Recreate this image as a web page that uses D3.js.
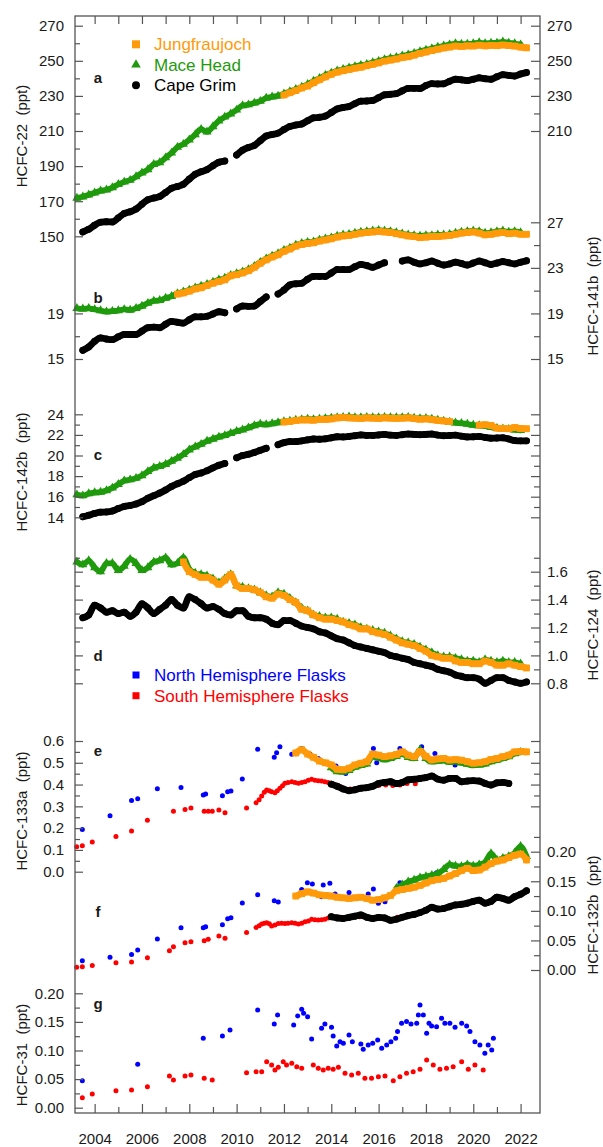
<!DOCTYPE html>
<meta charset="utf-8">
<style>
  body { margin: 0; background: #fff; }
  svg text { font-family: "Liberation Sans", Arial, sans-serif; fill: #1a1a1a; }
  .tick line { stroke: #555; stroke-width: 1.2; }
  .tick text { font-size: 15px; }
  .title { font-size: 15px; }
  .letter { font-size: 15px; font-weight: bold; }
  .legend { font-size: 17px; }
</style>
<script src="https://cdn.jsdelivr.net/npm/d3@7"></script>
<body>
<div id="chart"></div>
<script>
// ---- data (quarterly in situ means, flask samples as [year, value]) ----
const yearTicks = [2004, 2005, 2006, 2007, 2008, 2009, 2010, 2011, 2012, 2013, 2014, 2015, 2016, 2017, 2018, 2019, 2020, 2021, 2022];
const yearLabels = [2004, 2006, 2008, 2010, 2012, 2014, 2016, 2018, 2020, 2022];

// HCFC-22
const hcfc22MhdStart = 2003.25;
const hcfc22Mhd = [171.8, 172.5, 173.6,
  174.8, 175.9, 176.5, 177.8, 179.6, 181.0, 182.0, 184.0, 186.2, 188.0, 191.0, 192.0,
  194.8, 197.5, 200.8, 202.5, 205.0, 208.0, 211.0, 209.5, 212.5, 215.8, 218.0, 219.8,
  222.0, 224.5, 225.0, 226.0, 227.0, 228.8, 229.5, 230.0, 231.2, 232.5, 233.8, 235.0,
  236.6, 238.5, 240.0, 241.8, 243.0, 244.3, 245.2, 246.0, 246.8, 247.5, 248.0, 249.0,
  249.8, 250.8, 251.5, 252.0, 252.8, 253.5, 254.3, 255.3, 256.2, 257.0, 257.8, 258.5,
  259.2, 259.8, 259.5, 259.6, 259.8, 260.4, 259.9, 260.1, 260.2, 260.8, 260.2, 259.8, 259.2];
const hcfc22JfjStart = 2012.0;
const hcfc22Jfj = [230.5, 231.8, 233.0, 234.5, 235.6, 237.5, 239.2, 240.8, 242.3, 243.5, 244.3, 245.0,
  245.8, 246.3, 247.2, 248.0, 248.8, 249.8, 250.4, 251.0, 251.8, 252.3, 253.2, 254.2,
  255.0, 255.8, 256.6, 257.3, 257.8, 258.4, 258.2, 258.5, 258.4, 258.9, 258.5, 258.8,
  258.6, 259.0, 258.7, 258.4, 257.8, 257.4];
const hcfc22CgoStart = 2003.5;
const hcfc22Cgo = [152.5, 154.0,
  156.3, 158.0, 158.3, 158.2, 160.5, 163.0, 164.0, 165.5, 168.3, 170.8, 171.8, 172.7,
  175.0, 177.4, 178.4, 179.6, 182.6, 185.3, 186.8, 188.0, 190.2, 192.2, 192.9, null,
  196.3, 199.1, 200.6, 201.8, 204.5, 207.1, 208.0, 208.8, 210.8, 212.6, 213.4, 214.0,
  215.8, 217.5, 217.8, 218.5, 220.5, 222.6, 223.4, 224.0, 225.6, 227.0, 227.1, 227.4,
  229.0, 230.6, 230.9, 231.3, 232.9, 234.3, 234.3, 234.2, 235.9, 237.0, 236.8, 236.9,
  238.3, 239.5, 239.2, 238.7, 239.5, 240.3, 239.8, 239.5, 240.9, 242.1, 241.7, 241.3,
  242.5, 243.3];

// HCFC-141b
const hcfc141bMhdStart = 2003.25;
const hcfc141bMhd = [19.45, 19.40, 19.45,
  19.35, 19.25, 19.15, 19.20, 19.25, 19.35, 19.30, 19.45, 19.65, 19.90, 20.10, 20.15,
  20.35, 20.50, 20.75, 20.90, 21.05, 21.25, 21.40, 21.55, 21.75, 21.95, 22.10, 22.35,
  22.50, 22.65, 22.85, 23.15, 23.50, 23.80, 24.05, 24.25, 24.55, 24.75, 25.00, 25.15,
  25.25, 25.30, 25.45, 25.55, 25.65, 25.80, 25.90, 25.95, 26.05, 26.15, 26.20, 26.25,
  26.30, 26.25, 26.20, 26.10, 26.00, 25.90, 25.85, 25.80, 25.85, 25.85, 25.90, 25.90,
  25.95, 26.05, 26.15, 26.20, 26.25, 26.20, 26.05, 26.10, 26.20, 26.25, 26.15, 26.20, 26.10];
const hcfc141bJfjStart = 2007.5;
const hcfc141bJfj = [20.70, 20.80,
  20.95, 21.15, 21.25, 21.45, 21.65, 21.80, 21.95, 22.30, 22.40, 22.55, 22.75, 23.05,
  23.40, 23.70, 23.95, 24.15, 24.45, 24.65, 24.90, 25.05, 25.15, 25.20, 25.35, 25.45,
  25.55, 25.70, 25.80, 25.85, 25.95, 26.05, 26.10, 26.15, 26.20, 26.15, 26.10, 26.00,
  25.90, 25.80, 25.75, 25.65, 25.70, 25.75, 25.75, 25.80, 25.85, 25.95, 26.05, 26.10,
  26.15, 26.05, 25.90, 25.95, 26.05, 26.10, 26.00, 26.05, 25.95, 25.95];
const hcfc141bCgoStart = 2003.5;
const hcfc141bCgo = [15.76, 16.05,
  16.55, 16.85, 16.75, 16.70, 16.95, 17.15, 17.15, 17.15, 17.45, 17.75, 17.80, 17.75,
  18.05, 18.30, 18.22, 18.15, 18.45, 18.70, 18.70, 18.75, 18.95, 19.15, 19.06, null,
  19.40, 19.65, 19.62, 19.65, 20.05, 20.45, null, 20.70, 21.05, 21.50, 21.60, 21.65,
  22.00, 22.25, 22.25, 22.25, 22.55, 22.85, 22.85, 22.85, 23.10, 23.30, 23.20, 23.05,
  23.25, 23.45, null, null, 23.60, 23.70, 23.50, 23.35, 23.45, 23.60, 23.40, 23.25,
  23.35, 23.50, 23.38, 23.25, 23.42, 23.60, 23.45, 23.30, 23.42, 23.55, 23.45, 23.35,
  23.50, 23.62];

// HCFC-142b
const hcfc142bMhdStart = 2003.25;
const hcfc142bMhd = [16.20, 16.10, 16.30,
  16.40, 16.45, 16.60, 16.85, 17.20, 17.55, 17.65, 17.80, 18.05, 18.45, 18.80, 18.95,
  19.15, 19.45, 19.75, 20.10, 20.55, 20.85, 21.10, 21.40, 21.60, 21.80, 21.95, 22.15,
  22.35, 22.50, 22.70, 22.90, 23.05, 23.00, 23.10, 23.20, 23.30, 23.35, 23.45, 23.50,
  23.55, 23.50, 23.55, 23.60, 23.65, 23.70, 23.72, 23.75, 23.70, 23.68, 23.72, 23.70,
  23.68, 23.72, 23.70, 23.68, 23.70, 23.72, 23.65, 23.60, 23.62, 23.55, 23.45, 23.35,
  23.25, 23.18, 23.12, 23.05, 22.95, 22.90, 22.85, 22.75, 22.65, 22.60, 22.55, 22.50, 22.45];
const hcfc142bJfjStart = 2012.0;
const hcfc142bJfj = [23.25, 23.30, 23.40, 23.45, 23.45, 23.42, 23.50, 23.50, 23.55, 23.65, 23.68, 23.65,
  23.62, 23.60, 23.65, 23.62, 23.60, 23.65, 23.62, 23.60, 23.62, 23.65, 23.58, 23.52,
  23.55, 23.48, 23.40, 23.35, 23.30, null, null, null, null, 22.95, 22.98, 22.92,
  22.65, 22.62, 22.60, 22.72, 22.62, 22.60];
const hcfc142bCgoStart = 2003.5;
const hcfc142bCgo = [14.05, 14.20,
  14.38, 14.50, 14.52, 14.62, 14.85, 15.05, 15.15, 15.30, 15.52, 15.85, 16.10, 16.35,
  16.65, 17.00, 17.25, 17.50, 17.85, 18.15, 18.30, 18.52, 18.80, 19.05, 19.22, null,
  19.78, 20.00, 20.12, 20.30, 20.50, 20.70, null, 21.05, 21.25, 21.35, 21.35, 21.42,
  21.52, 21.60, 21.58, 21.62, 21.72, 21.82, 21.80, 21.85, 21.92, 22.00, 21.95, 21.95,
  22.00, 22.05, 21.98, 21.95, 22.02, 22.08, 22.05, 22.02, 22.05, 22.08, 21.98, 21.92,
  21.95, 21.98, 21.88, 21.80, 21.82, 21.85, 21.75, 21.68, 21.70, 21.72, 21.60, 21.45,
  21.42, 21.42];

// HCFC-124
const hcfc124MhdStart = 2003.25;
const hcfc124Mhd = [1.67, 1.65, 1.68,
  1.63, 1.60, 1.66, 1.66, 1.61, 1.64, 1.69, 1.66, 1.61, 1.63, 1.67, 1.68,
  1.70, 1.65, 1.66, 1.70, 1.62, 1.59, 1.58, 1.57, 1.55, 1.52, 1.55, 1.58,
  1.50, 1.49, 1.48, 1.47, 1.45, 1.43, 1.42, 1.45, 1.44, 1.41, 1.38, 1.34,
  1.32, 1.29, 1.28, 1.27, 1.27, 1.26, 1.24, 1.23, 1.22, 1.20, 1.19, 1.18,
  1.17, 1.16, 1.14, 1.12, 1.10, 1.09, 1.08, 1.06, 1.04, 1.02, 1.00, 0.99,
  0.99, 0.98, 0.97, 0.96, 0.96, 0.95, 0.97, 0.96, 0.95, 0.96, 0.95, 0.95, 0.94];
const hcfc124JfjStart = 2007.75;
const hcfc124Jfj = [1.67,
  1.60, 1.58, 1.56, 1.56, 1.54, 1.51, 1.54, 1.58, 1.50, 1.48, 1.48, 1.47,
  1.45, 1.42, 1.41, 1.44, 1.43, 1.40, 1.38, 1.33, 1.32, 1.29, 1.27, 1.26,
  1.26, 1.25, 1.24, 1.22, 1.21, 1.19, 1.19, 1.17, 1.16, 1.15, 1.13, 1.11,
  1.09, 1.08, 1.07, 1.05, 1.03, 1.00, 0.99, 0.98, 0.98, 0.96, 0.95, 0.95,
  0.94, 0.94, 0.96, 0.95, 0.93, 0.93, 0.94, 0.93, 0.92, 0.91];
const hcfc124CgoStart = 2003.5;
const hcfc124Cgo = [1.27, 1.29,
  1.36, 1.34, 1.31, 1.32, 1.30, 1.31, 1.28, 1.31, 1.37, 1.34, 1.30, 1.33,
  1.36, 1.40, 1.36, 1.34, 1.42, 1.40, 1.37, 1.34, 1.35, 1.33, 1.30, 1.29,
  1.32, 1.32, 1.28, 1.27, 1.27, 1.26, 1.23, 1.22, 1.25, 1.25, 1.23, 1.21,
  1.20, 1.19, 1.17, 1.16, 1.14, 1.12, 1.11, 1.09, 1.07, 1.06, 1.05, 1.04,
  1.03, 1.02, 1.00, 0.99, 0.98, 0.97, 0.95, 0.94, 0.93, 0.92, 0.90, 0.89,
  0.88, 0.86, 0.85, 0.84, 0.84, 0.83, 0.80, 0.82, 0.84, 0.84, 0.82, 0.81,
  0.80, 0.81];

// HCFC-133a
const hcfc133aJfjStart = 2012.5;
const hcfc133aJfj = [0.545, 0.560, 0.540, 0.525, 0.508, 0.500, 0.490, 0.470, 0.468, 0.475,
  0.490, 0.498, 0.505, 0.540, 0.535, 0.528, 0.532, 0.538, 0.550, 0.535, 0.528, 0.552,
  0.530, 0.513, 0.518, 0.520, 0.513, 0.515, 0.512, 0.505, 0.498, 0.500, 0.505, 0.515,
  0.520, 0.528, 0.535, 0.550, 0.552, 0.550];
const hcfc133aMhdStart = 2014.0;
const hcfc133aMhd = [0.478, 0.460, 0.458, 0.465, 0.480, 0.488, 0.495, 0.528, 0.522, 0.515,
  0.520, 0.530, 0.540, 0.525, 0.520, 0.560, 0.520, 0.505, 0.508, 0.510, 0.503, 0.505,
  0.500, 0.494, 0.488, 0.490, 0.495, 0.505, 0.512, 0.520, 0.528, 0.542, 0.548];
const hcfc133aCgoStart = 2014.0;
const hcfc133aCgo = [0.402, 0.392, 0.380, 0.372, 0.376, 0.383, 0.386, 0.392, 0.405, 0.410,
  0.413, 0.405, 0.410, 0.422, 0.424, 0.428, 0.432, 0.439, 0.425, 0.420, 0.428, 0.428,
  0.413, 0.416, 0.418, 0.416, 0.405, 0.398, 0.408, 0.410, 0.405];
const flask133aNorth = [[2003.48, 0.194], [2004.65, 0.257], [2005.56, 0.327], [2005.82, 0.335],
  [2006.65, 0.381], [2007.65, 0.386], [2008.59, 0.352], [2008.69, 0.357], [2009.40, 0.349],
  [2009.62, 0.367], [2009.76, 0.370], [2010.24, 0.425], [2010.89, 0.562], [2011.59, 0.525],
  [2011.69, 0.546], [2011.83, 0.574], [2012.33, 0.539], [2012.75, 0.566], [2013.10, 0.540],
  [2013.45, 0.520], [2013.80, 0.500], [2014.20, 0.485], [2014.61, 0.451], [2015.00, 0.490],
  [2015.40, 0.505], [2015.78, 0.566], [2015.92, 0.500], [2016.35, 0.525], [2016.90, 0.566],
  [2017.15, 0.545], [2017.82, 0.574], [2018.05, 0.530], [2018.38, 0.543], [2018.75, 0.520],
  [2019.23, 0.490], [2019.60, 0.510]];
const flask133aSouth = [[2003.24, 0.115], [2003.48, 0.119], [2003.90, 0.136], [2004.90, 0.162],
  [2005.56, 0.187], [2006.23, 0.236], [2007.33, 0.278], [2007.82, 0.286], [2008.07, 0.292],
  [2008.63, 0.277], [2008.80, 0.278], [2008.97, 0.277], [2009.25, 0.283], [2009.51, 0.271],
  [2010.42, 0.292], [2010.82, 0.317], [2010.95, 0.330], [2011.06, 0.347], [2011.17, 0.365],
  [2011.27, 0.375], [2011.38, 0.372], [2011.48, 0.367], [2011.62, 0.363], [2011.72, 0.372],
  [2011.83, 0.383], [2011.94, 0.395], [2012.04, 0.406], [2012.17, 0.410], [2012.33, 0.413],
  [2012.47, 0.410], [2012.61, 0.406], [2012.75, 0.410], [2012.89, 0.413], [2013.03, 0.420],
  [2013.17, 0.424], [2013.31, 0.420], [2013.45, 0.418], [2013.59, 0.416], [2013.73, 0.413],
  [2013.87, 0.410], [2014.01, 0.406], [2014.40, 0.390], [2014.80, 0.380], [2015.20, 0.386],
  [2015.60, 0.390], [2016.00, 0.396], [2016.30, 0.398], [2016.60, 0.396], [2016.90, 0.398],
  [2017.20, 0.405], [2017.55, 0.404]];

// HCFC-132b
const hcfc132bJfjStart = 2012.5;
const hcfc132bJfj = [0.125, 0.129, 0.132, 0.130, 0.127, 0.126, 0.125, 0.123, 0.122, 0.121,
  0.122, 0.123, 0.121, 0.118, 0.119, 0.122, 0.126, 0.134, 0.136, 0.138, 0.140, 0.143,
  0.147, 0.151, 0.153, 0.155, 0.159, 0.163, 0.168, 0.172, 0.168, 0.169, 0.174, 0.180,
  0.184, 0.186, 0.190, 0.194, 0.196, 0.186];
const hcfc132bMhdStart = 2016.75;
const hcfc132bMhd = [0.138, 0.144, 0.149, 0.152, 0.156, 0.158, 0.160, 0.163, 0.170, 0.178,
  0.176, 0.175, 0.178, 0.176, 0.178, 0.182, 0.197, 0.186, 0.189, 0.192, 0.198, 0.209, 0.192];
const hcfc132bCgoStart = 2014.0;
const hcfc132bCgo = [0.090, 0.088, 0.087, 0.089, 0.091, 0.093, 0.089, 0.087, 0.089, 0.088,
  0.084, 0.086, 0.089, 0.092, 0.094, 0.097, 0.101, 0.106, 0.103, 0.104, 0.107, 0.110,
  0.111, 0.113, 0.116, 0.118, 0.113, 0.116, 0.123, 0.121, 0.118, 0.124, 0.128, 0.134];
const flask132bNorth = [[2003.48, 0.0157], [2004.65, 0.0214], [2005.56, 0.0264], [2005.82, 0.0338],
  [2006.65, 0.0524], [2007.65, 0.0715], [2008.59, 0.0715], [2008.69, 0.0732], [2009.40, 0.0766],
  [2009.62, 0.0867], [2009.76, 0.0884], [2010.24, 0.1132], [2010.89, 0.1273], [2011.59, 0.1170],
  [2011.76, 0.1150], [2012.75, 0.1363], [2012.99, 0.1476], [2013.20, 0.1453], [2013.59, 0.1239],
  [2013.66, 0.1436], [2013.94, 0.1465], [2014.16, 0.1284], [2014.75, 0.1312], [2015.56, 0.1284],
  [2015.78, 0.1369], [2015.99, 0.1127], [2016.27, 0.1155], [2016.90, 0.1476], [2017.82, 0.1566],
  [2018.45, 0.1645]];
const flask132bSouth = [[2003.24, 0.0045], [2003.48, 0.0056], [2003.90, 0.0078], [2004.90, 0.0123],
  [2005.56, 0.0135], [2006.23, 0.0208], [2007.16, 0.0326], [2007.33, 0.0394], [2007.82, 0.0462],
  [2008.07, 0.0478], [2008.63, 0.0495], [2008.80, 0.0518], [2009.25, 0.0574], [2009.51, 0.0535],
  [2010.42, 0.0636], [2010.82, 0.0720], [2010.95, 0.0750], [2011.06, 0.0777], [2011.17, 0.0790],
  [2011.27, 0.0800], [2011.38, 0.0780], [2011.48, 0.0743], [2011.62, 0.0760], [2011.76, 0.0788],
  [2011.90, 0.0790], [2012.04, 0.0788], [2012.17, 0.0790], [2012.33, 0.0800], [2012.47, 0.0790],
  [2012.61, 0.0777], [2012.75, 0.0790], [2012.89, 0.0817], [2013.03, 0.0830], [2013.17, 0.0856],
  [2013.31, 0.0850], [2013.45, 0.0845], [2013.59, 0.0850], [2013.73, 0.0856], [2013.87, 0.0880],
  [2014.01, 0.0912], [2014.40, 0.0890], [2014.80, 0.0910], [2015.20, 0.0900], [2015.60, 0.0880],
  [2016.00, 0.0880], [2016.40, 0.0870], [2016.80, 0.0890], [2017.20, 0.0920], [2017.55, 0.0940]];

// HCFC-31
const flask31North = [[2003.48, 0.0473], [2005.82, 0.0759], [2008.59, 0.1213], [2009.40, 0.1254],
  [2009.72, 0.1359], [2010.89, 0.1709], [2011.59, 0.1464], [2011.73, 0.1621], [2012.41, 0.1446],
  [2012.58, 0.1604], [2012.75, 0.1720], [2012.83, 0.1650], [2013.00, 0.1592], [2013.17, 0.1202],
  [2013.59, 0.1388], [2013.73, 0.1464], [2014.01, 0.1406], [2014.08, 0.1254], [2014.23, 0.1079],
  [2014.37, 0.1155], [2014.51, 0.1126], [2014.75, 0.1272], [2014.89, 0.1155], [2015.25, 0.1114],
  [2015.35, 0.1021], [2015.56, 0.1097], [2015.75, 0.1126], [2015.96, 0.1184], [2016.13, 0.1038],
  [2016.34, 0.1097], [2016.52, 0.1155], [2016.72, 0.1213], [2016.80, 0.1330], [2016.97, 0.1476],
  [2017.18, 0.1505], [2017.37, 0.1464], [2017.61, 0.1476], [2017.68, 0.1621], [2017.75, 0.1796],
  [2017.89, 0.1621], [2018.03, 0.1300], [2018.13, 0.1476], [2018.24, 0.1430], [2018.45, 0.1417],
  [2018.66, 0.1563], [2018.80, 0.1476], [2019.01, 0.1476], [2019.23, 0.1406], [2019.51, 0.1476],
  [2019.72, 0.1430], [2019.86, 0.1330], [2020.07, 0.1155], [2020.28, 0.1097], [2020.49, 0.0951],
  [2020.63, 0.1097], [2020.78, 0.1009], [2020.85, 0.1213]];
const flask31South = [[2003.48, 0.0176], [2003.90, 0.0240], [2004.90, 0.0298], [2005.56, 0.0310],
  [2006.23, 0.0368], [2007.16, 0.0555], [2007.33, 0.0485], [2007.82, 0.0555], [2008.07, 0.0572],
  [2008.63, 0.0514], [2008.97, 0.0485], [2010.42, 0.0613], [2010.82, 0.0630], [2011.06, 0.0630],
  [2011.27, 0.0805], [2011.48, 0.0747], [2011.62, 0.0660], [2011.76, 0.0706], [2011.97, 0.0805],
  [2012.11, 0.0747], [2012.33, 0.0776], [2012.54, 0.0718], [2012.75, 0.0689], [2013.24, 0.0747],
  [2013.45, 0.0689], [2013.66, 0.0660], [2013.87, 0.0689], [2014.08, 0.0671], [2014.30, 0.0706],
  [2014.58, 0.0601], [2014.86, 0.0572], [2015.14, 0.0601], [2015.42, 0.0514], [2015.70, 0.0514],
  [2015.99, 0.0543], [2016.27, 0.0555], [2016.62, 0.0473], [2016.90, 0.0543], [2017.18, 0.0601],
  [2017.46, 0.0630], [2017.75, 0.0671], [2018.03, 0.0834], [2018.31, 0.0747], [2018.59, 0.0671],
  [2018.87, 0.0689], [2019.15, 0.0718], [2019.51, 0.0805], [2019.79, 0.0671], [2020.07, 0.0747],
  [2020.42, 0.0660]];

// ---- layout ----
const W = 603, H = 1147;
const frameL = 75, frameR = 540, frameT = 16, frameB = 1113;
const orange = "#ff9a0a", green = "#1f9a0c", black = "#000", blue = "#0000ff", red = "#ff0000";

const svg = d3.select("#chart").append("svg").attr("width", W).attr("height", H);

const x = d3.scaleLinear().domain([2003.17, 2022.82]).range([frameL, frameR]);

const yA = d3.scaleLinear().domain([150, 270]).range([236.3, 25.7]);
const yB = d3.scaleLinear().domain([15, 27]).range([359, 222.3]);
const yC = d3.scaleLinear().domain([14, 24]).range([517.3, 414.3]);
const yD = d3.scaleLinear().domain([0.8, 1.6]).range([683.3, 571.7]);
const yE = d3.scaleLinear().domain([0, 0.6]).range([871.7, 741]);
const yF = d3.scaleLinear().domain([0, 0.2]).range([970, 851.7]);
const yG = d3.scaleLinear().domain([0, 0.2]).range([1107.7, 993.3]);

function quarterly(start, values) {
  return values.map((v, i) => [start + i * 0.25, v]);
}

// thick line + markers for the in situ records
function insitu(y, pts, color, shape, size, width) {
  const line = d3.line()
    .defined(d => d[1] !== null)
    .x(d => x(d[0]))
    .y(d => y(d[1]))
    .curve(d3.curveMonotoneX);
  svg.append("path")
    .attr("d", line(pts))
    .attr("fill", "none")
    .attr("stroke", color)
    .attr("stroke-width", width)
    .attr("stroke-linejoin", "round")
    .attr("stroke-linecap", "round");
  svg.append("g")
    .selectAll("path")
    .data(pts.filter(d => d[1] !== null))
    .join("path")
    .attr("transform", d => `translate(${x(d[0])},${y(d[1])})`)
    .attr("d", d3.symbol(shape, size))
    .attr("fill", color);
}

function flasks(y, pts, color) {
  svg.append("g")
    .selectAll("circle")
    .data(pts)
    .join("circle")
    .attr("cx", d => x(d[0]))
    .attr("cy", d => y(d[1]))
    .attr("r", 2.5)
    .attr("fill", color);
}

const mhd = (y, start, v) => insitu(y, quarterly(start, v), green, d3.symbolTriangle, 36, 5.8);
const jfj = (y, start, v) => insitu(y, quarterly(start, v), orange, d3.symbolSquare, 46, 6.6);
const cgo = (y, start, v) => insitu(y, quarterly(start, v), black, d3.symbolCircle, 38, 6.8);

// panel a
mhd(yA, hcfc22MhdStart, hcfc22Mhd);
jfj(yA, hcfc22JfjStart, hcfc22Jfj);
cgo(yA, hcfc22CgoStart, hcfc22Cgo);
// panel b
mhd(yB, hcfc141bMhdStart, hcfc141bMhd);
jfj(yB, hcfc141bJfjStart, hcfc141bJfj);
cgo(yB, hcfc141bCgoStart, hcfc141bCgo);
// panel c
mhd(yC, hcfc142bMhdStart, hcfc142bMhd);
jfj(yC, hcfc142bJfjStart, hcfc142bJfj);
cgo(yC, hcfc142bCgoStart, hcfc142bCgo);
// panel d
mhd(yD, hcfc124MhdStart, hcfc124Mhd);
jfj(yD, hcfc124JfjStart, hcfc124Jfj);
cgo(yD, hcfc124CgoStart, hcfc124Cgo);
// panel e
flasks(yE, flask133aNorth, blue);
flasks(yE, flask133aSouth, red);
mhd(yE, hcfc133aMhdStart, hcfc133aMhd);
jfj(yE, hcfc133aJfjStart, hcfc133aJfj);
cgo(yE, hcfc133aCgoStart, hcfc133aCgo);
// panel f
flasks(yF, flask132bNorth, blue);
flasks(yF, flask132bSouth, red);
mhd(yF, hcfc132bMhdStart, hcfc132bMhd);
jfj(yF, hcfc132bJfjStart, hcfc132bJfj);
cgo(yF, hcfc132bCgoStart, hcfc132bCgo);
// panel g
flasks(yG, flask31North, blue);
flasks(yG, flask31South, red);

// ---- axes ----
function yAxis(scale, side, major, minor, fmt) {
  const make = side === "left" ? d3.axisLeft : d3.axisRight;
  const pos = side === "left" ? frameL : frameR;
  const g1 = svg.append("g").attr("transform", `translate(${pos},0)`)
    .call(make(scale).tickValues(major).tickSizeInner(side === "left" ? -8 : -9).tickSizeOuter(0)
      .tickPadding(side === "left" ? 11 : 7)
      .tickFormat(fmt ? d3.format(fmt) : () => ""));
  const g2 = svg.append("g").attr("transform", `translate(${pos},0)`)
    .call(make(scale).tickValues(minor).tickSizeInner(side === "left" ? -5 : -6).tickSizeOuter(0)
      .tickFormat(() => ""));
  [g1, g2].forEach(g => { g.select(".domain").remove(); g.attr("font-family", null).attr("font-size", null); });
}

yAxis(yA, "left", [150, 170, 190, 210, 230, 250, 270], [160, 180, 200, 220, 240, 260], "d");
yAxis(yA, "right", [210, 230, 250, 270], [220, 240, 260], "d");
yAxis(yB, "left", [15, 19], [17], "d");
yAxis(yB, "right", [15, 19, 23, 27], [17, 21, 25], "d");
yAxis(yC, "left", [14, 16, 18, 20, 22, 24], [15, 17, 19, 21, 23], "d");
yAxis(yC, "right", [14, 16, 18, 20, 22, 24], [15, 17, 19, 21, 23], null);
yAxis(yD, "left", [0.8, 1.0, 1.2, 1.4, 1.6], [0.9, 1.1, 1.3, 1.5, 1.7], null);
yAxis(yD, "right", [0.8, 1.0, 1.2, 1.4, 1.6], [0.9, 1.1, 1.3, 1.5, 1.7], ".1f");
yAxis(yE, "left", [0, 0.1, 0.2, 0.3, 0.4, 0.5, 0.6], [0.05, 0.15, 0.25, 0.35, 0.45, 0.55], ".1f");
yAxis(yE, "right", [0.3, 0.4, 0.5, 0.6], [0.35, 0.45, 0.55], null);
yAxis(yF, "right", [0, 0.05, 0.1, 0.15, 0.2], [0.025, 0.075, 0.125, 0.175, 0.225], ".2f");
yAxis(yG, "left", [0, 0.05, 0.1, 0.15, 0.2], [0.025, 0.075, 0.125, 0.175], ".2f");

const xMajor = svg.append("g").attr("transform", `translate(0,${frameB})`)
  .call(d3.axisBottom(x).tickValues(yearLabels).tickSizeInner(-9).tickSizeOuter(0)
    .tickPadding(20).tickFormat(d3.format("d")));
const xMinor = svg.append("g").attr("transform", `translate(0,${frameB})`)
  .call(d3.axisBottom(x).tickValues(yearTicks.filter(d => d % 2)).tickSizeInner(-6).tickSizeOuter(0)
    .tickFormat(() => ""));
const xTop = svg.append("g").attr("transform", `translate(0,${frameT})`)
  .call(d3.axisTop(x).tickValues(yearTicks).tickSizeInner(-8).tickSizeOuter(0).tickFormat(() => ""));
[xMajor, xMinor, xTop].forEach(g => { g.select(".domain").remove(); g.attr("font-family", null).attr("font-size", null); });

svg.append("rect")
  .attr("x", frameL).attr("y", frameT)
  .attr("width", frameR - frameL).attr("height", frameB - frameT)
  .attr("fill", "none").attr("stroke", "#555").attr("stroke-width", 1.3);

// axis titles
const titles = [
  ["HCFC-22\u00a0\u00a0(ppt)", 26.5, 136],
  ["HCFC-142b\u00a0\u00a0(ppt)", 26.5, 472],
  ["HCFC-133a\u00a0\u00a0(ppt)", 26.5, 811],
  ["HCFC-31\u00a0\u00a0(ppt)", 26.5, 1055],
  ["HCFC-141b\u00a0\u00a0(ppt)", 598, 296],
  ["HCFC-124\u00a0\u00a0(ppt)", 598, 625],
  ["HCFC-132b\u00a0\u00a0(ppt)", 598, 915]
];
svg.append("g").selectAll("text").data(titles).join("text")
  .attr("class", "title")
  .attr("text-anchor", "middle")
  .attr("transform", d => `translate(${d[1]},${d[2]}) rotate(-90)`)
  .text(d => d[0]);

// panel letters
const letters = [["a", 82.7], ["b", 302.5], ["c", 460], ["d", 660.8], ["e", 756.3], ["f", 916.5], ["g", 1008.5]];
svg.append("g").selectAll("text").data(letters).join("text")
  .attr("class", "letter")
  .attr("x", 98).attr("y", d => d[1])
  .attr("text-anchor", "middle")
  .text(d => d[0]);

// legends
const legendStations = [
  ["Jungfraujoch", orange, d3.symbolSquare, 64, 44.3],
  ["Mace Head", green, d3.symbolTriangle, 40, 64.8],
  ["Cape Grim", black, d3.symbolCircle, 50, 85.3],
  ["North Hemisphere Flasks", blue, d3.symbolSquare, 49, 675],
  ["South Hemisphere Flasks", red, d3.symbolSquare, 49, 695.7]
];
const leg = svg.append("g").selectAll("g").data(legendStations).join("g")
  .attr("transform", d => `translate(136,${d[4]})`);
leg.append("path").attr("d", d => d3.symbol(d[2], d[3])()).attr("fill", d => d[1]);
leg.append("text").attr("class", "legend")
  .attr("x", 18).attr("y", 6)
  .style("fill", d => d[1])
  .text(d => d[0]);
</script>
</body>
